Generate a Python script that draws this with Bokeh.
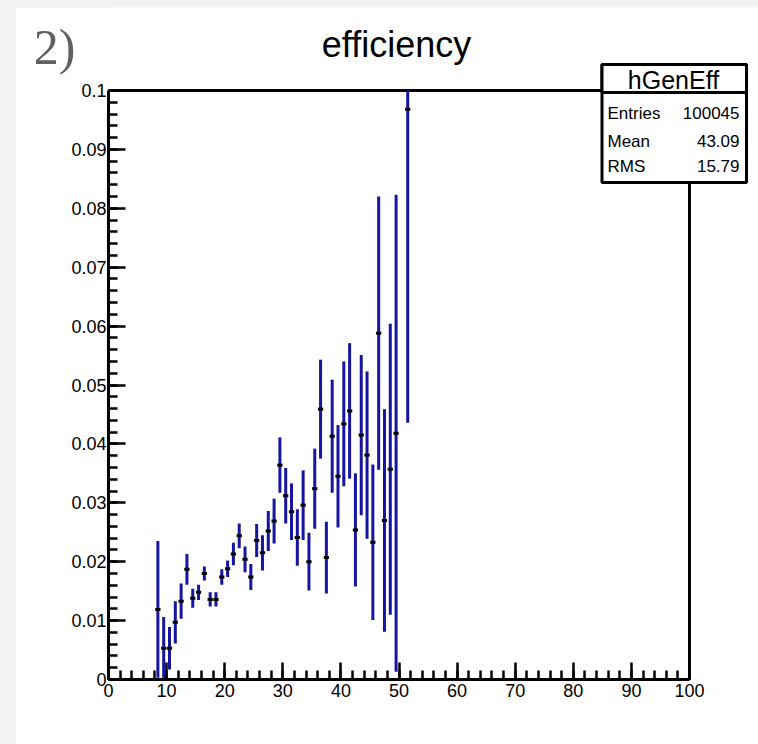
import numpy as np
from bokeh.plotting import figure
from bokeh.models import Range1d, FixedTicker, Label, BoxAnnotation, ColumnDataSource, LinearAxis
from bokeh.layouts import column
from bokeh.embed import file_html
from bokeh.resources import INLINE

# ---- data ----
bin_low = [8, 9, 10, 11, 12, 13, 14, 15, 16, 17, 18, 19, 20, 21, 22, 23, 24, 25,
           26, 27, 28, 29, 30, 31, 32, 33, 34, 35, 36, 37, 38, 39, 40, 41, 42,
           43, 44, 45, 46, 47, 48, 49, 51]
eff = [0.0119, 0.0053, 0.0053, 0.0097, 0.0133, 0.0187, 0.0138, 0.0148, 0.0180,
       0.0136, 0.0136, 0.0174, 0.0188, 0.0213, 0.0244, 0.0204, 0.0174, 0.0236,
       0.0215, 0.0252, 0.0269, 0.0364, 0.0312, 0.0285, 0.0241, 0.0296, 0.0200,
       0.0324, 0.0459, 0.0207, 0.0413, 0.0345, 0.0434, 0.0456, 0.0254, 0.0415,
       0.0381, 0.0233, 0.0588, 0.0270, 0.0357, 0.0418, 0.0968]
err = [0.0116, 0.0053, 0.0036, 0.0036, 0.0030, 0.0026, 0.0016, 0.0013, 0.0012,
       0.0012, 0.0012, 0.0013, 0.0014, 0.0019, 0.0021, 0.0022, 0.0022, 0.0028,
       0.0030, 0.0034, 0.0038, 0.0047, 0.0047, 0.0048, 0.0048, 0.0059, 0.0049,
       0.0068, 0.0084, 0.0061, 0.0096, 0.0087, 0.0106, 0.0115, 0.0096, 0.0136,
       0.0142, 0.0132, 0.0232, 0.0189, 0.0247, 0.0405, 0.0532]
bin_width = 1.0

x_ticks = [0, 10, 20, 30, 40, 50, 60, 70, 80, 90, 100]
x_minor = list(range(0, 101, 2))
y_ticks = [0, 0.01, 0.02, 0.03, 0.04, 0.05, 0.06, 0.07, 0.08, 0.09, 0.1]
y_tick_labels = ["0", "0.01", "0.02", "0.03", "0.04", "0.05", "0.06", "0.07", "0.08", "0.09", "0.1"]
y_minor = [round(i * 0.002, 3) for i in range(51)]

title_text = "efficiency"
pad_label = "2)"
stats_name = "hGenEff"
stats_rows = [("Entries", "100045"), ("Mean", "43.09"), ("RMS", "15.79")]

BLUE = "#1515a2"
FONT = "Liberation Sans"

X_MIN, X_MAX = x_ticks[0], x_ticks[-1]
Y_MIN, Y_MAX = y_ticks[0], y_ticks[-1]

# page layout (pixels): axes box 108..689 (x), 90..679 (y); canvas starts at (15, 7)
FL, FR, FT, FB = 108.0, 689.0, 90.0, 679.0
PAGE_W, PAGE_H = 758.0, 744.0
CANVAS_L, CANVAS_T = 15.0, 7.0

# the plotting frame extends to the canvas top/right so that title and stats box are not clipped
x_end = X_MIN + (X_MAX - X_MIN) * (PAGE_W - FL) / (FR - FL)
y_end = Y_MIN + (Y_MAX - Y_MIN) * (FB - CANVAS_T) / (FB - FT)

def y_of(py):
    return Y_MIN + (Y_MAX - Y_MIN) * (FB - py) / (FB - FT)

x = np.array(bin_low, dtype=float) + bin_width / 2
v = np.array(eff)
e = np.array(err)
src = ColumnDataSource(dict(x=x, v=v,
                            lo=np.maximum(v - e, Y_MIN), hi=np.minimum(v + e, Y_MAX),
                            xl=x - 0.45 * bin_width, xr=x + 0.45 * bin_width))

def sx(px):
    return px - FL
def sy(py):
    return FB - py

p = figure(width=int(PAGE_W - CANVAS_L), height=int(PAGE_H - CANVAS_T),
           x_range=Range1d(X_MIN, x_end), y_range=Range1d(Y_MIN, y_end),
           output_backend="svg", toolbar_location=None, title=None,
           min_border_left=int(FL - CANVAS_L), min_border_right=0,
           min_border_top=0, min_border_bottom=int(PAGE_H - FB))
p.margin = (int(CANVAS_T), 0, 0, int(CANVAS_L))
p.background_fill_color = "white"
p.border_fill_color = "white"
p.xgrid.visible = False
p.ygrid.visible = False
p.outline_line_color = None

for ax in (p.xaxis[0], p.yaxis[0]):
    ax.axis_line_width = 3
    ax.axis_line_color = "black"
    ax.major_tick_in = 17
    ax.major_tick_out = 0
    ax.minor_tick_in = 9
    ax.minor_tick_out = 0
    ax.major_tick_line_width = 2.5
    ax.minor_tick_line_width = 2.5
    ax.major_tick_line_color = "black"
    ax.minor_tick_line_color = "black"
    ax.major_label_text_font = FONT
    ax.major_label_text_font_size = "18px"
    ax.major_label_text_color = "black"

p.xaxis.bounds = (X_MIN, X_MAX)
p.yaxis.bounds = (Y_MIN, Y_MAX)
p.xaxis.ticker = FixedTicker(ticks=x_ticks, minor_ticks=x_minor)
p.yaxis.ticker = FixedTicker(ticks=y_ticks, minor_ticks=y_minor)
p.yaxis.major_label_overrides = {t: s for t, s in zip(y_ticks, y_tick_labels)}
p.xaxis.major_label_standoff = 4
p.yaxis.major_label_standoff = 2

# pad number "2)": the single tick label of a line-less outer left axis
pad_y = y_of(46)
pad_axis = LinearAxis(ticker=FixedTicker(ticks=[pad_y], minor_ticks=[]),
                      major_label_overrides={pad_y: pad_label},
                      major_label_text_font="Liberation Serif", major_label_text_font_size="50px",
                      major_label_text_color="#606060", major_label_standoff=-7,
                      axis_line_color=None, major_tick_line_color=None, minor_tick_line_color=None,
                      major_tick_in=0, major_tick_out=0, minor_tick_in=0, minor_tick_out=0)
p.add_layout(pad_axis, "left")

# top and right sides of the axes box
p.segment(x0=[X_MIN, X_MAX], y0=[Y_MAX, Y_MIN], x1=[X_MAX, X_MAX], y1=[Y_MAX, Y_MAX],
          line_color="black", line_width=3, line_cap="square")

p.segment(x0="x", y0="lo", x1="x", y1="hi", source=src, line_color=BLUE, line_width=3)
p.segment(x0="xl", y0="v", x1="xr", y1="v", source=src, line_color="black", line_width=3)

def label(px, py, text, **kw):
    return Label(x=sx(px), y=sy(py), x_units="screen", y_units="screen", text=text,
                 text_baseline="middle", text_color="black", **kw)

# title
p.add_layout(label(396, 43.5, title_text, text_font=FONT, text_font_size="36px", text_align="center"))

# stats box
box_kw = dict(left_units="screen", right_units="screen", top_units="screen", bottom_units="screen",
              fill_color="white", fill_alpha=1, line_color="black", line_alpha=1, line_width=3,
              level="overlay")
p.add_layout(BoxAnnotation(left=sx(601.5), right=sx(746), top=sy(64), bottom=sy(182), **box_kw))
p.add_layout(BoxAnnotation(left=sx(601.5), right=sx(746), top=sy(64), bottom=sy(92), **box_kw))
p.add_layout(label(673, 79, stats_name, text_font=FONT, text_font_size="25px",
                   text_align="center", level="overlay"))
for (name, val), mid in zip(stats_rows, [112.5, 140.5, 165.5]):
    p.add_layout(label(607, mid, name, text_font=FONT, text_font_size="17px",
                       text_align="left", level="overlay"))
    p.add_layout(label(739, mid, val, text_font=FONT, text_font_size="17px",
                       text_align="right", level="overlay"))

layout = column(p, styles={"background-color": "#f2f2f2"})
open("out.html", "w").write(file_html(layout, INLINE))
